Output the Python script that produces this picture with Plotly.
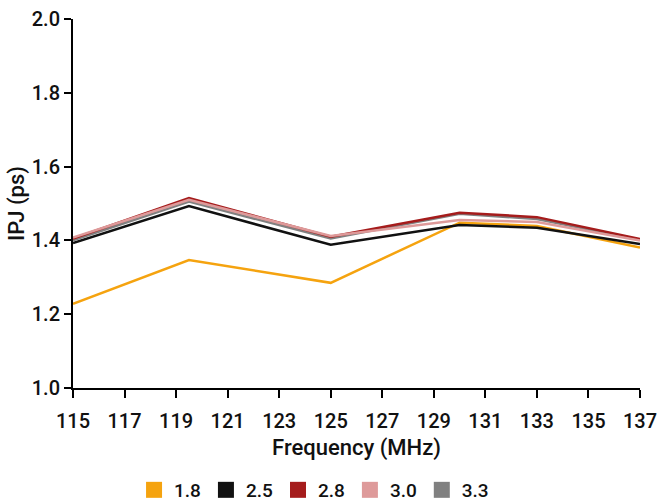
import plotly.graph_objects as go

freq = [115, 119.5, 125, 130, 133, 137]
series_names = ["1.8", "2.5", "2.8", "3.0", "3.3"]
ipj_18 = [1.228, 1.347, 1.285, 1.448, 1.439, 1.381]
ipj_25 = [1.393, 1.493, 1.388, 1.442, 1.434, 1.390]
ipj_28 = [1.405, 1.515, 1.410, 1.475, 1.463, 1.404]
ipj_30 = [1.408, 1.510, 1.412, 1.455, 1.450, 1.400]
ipj_33 = [1.400, 1.505, 1.405, 1.472, 1.458, 1.402]
colors = ["#F5A30F", "#111111", "#A51C1C", "#DE9A9A", "#808080"]

x_ticks = list(range(115, 138, 2))
y_ticks = [1.0, 1.2, 1.4, 1.6, 1.8, 2.0]

values = [ipj_18, ipj_25, ipj_28, ipj_30, ipj_33]
# draw order so the lighter/overlapping lines sit correctly
order = [0, 1, 4, 2, 3]

fig = go.Figure()
for i in order:
    fig.add_trace(go.Scatter(
        x=freq, y=values[i], mode="lines",
        line=dict(color=colors[i], width=2.5),
        showlegend=False, hoverinfo="skip",
    ))
for name, c in zip(series_names, colors):
    fig.add_trace(go.Scatter(
        x=[None], y=[None], mode="markers", name=name,
        marker=dict(symbol="square", size=16, color=c),
    ))

font_family = "Roboto, 'DejaVu Sans', sans-serif"
fig.update_layout(
    width=657, height=501,
    margin=dict(l=73, r=17, t=19, b=113),
    paper_bgcolor="white", plot_bgcolor="white",
    font=dict(family=font_family, size=20, color="#111111", weight=500),
    xaxis=dict(
        range=[115, 137], tickvals=x_ticks, ticks="outside", ticklen=8,
        tickcolor="black", tickwidth=1.5, showline=True, linecolor="black",
        linewidth=2, showgrid=False, zeroline=False, automargin=False,
        tickfont=dict(size=20), ticklabelstandoff=6,
        ticklabeloverflow="allow",
        title=dict(text="Frequency (MHz)", font=dict(size=22), standoff=8),
    ),
    yaxis=dict(
        range=[1.0, 2.0], tickvals=y_ticks, tickformat=".1f", ticks="outside",
        ticklen=7, tickcolor="black", tickwidth=1.5, showline=True,
        linecolor="black", linewidth=2, showgrid=False, zeroline=False,
        automargin=False, tickfont=dict(size=20), ticklabeloverflow="allow",
        title=dict(text="IPJ (ps)", font=dict(size=22), standoff=1),
    ),
    legend=dict(
        orientation="h", xref="container", yref="container",
        x=0.478, xanchor="center", y=0.022, yanchor="middle",
        font=dict(size=19), itemwidth=30, tracegroupgap=0,
    ),
)

fig.write_html("out.html")
